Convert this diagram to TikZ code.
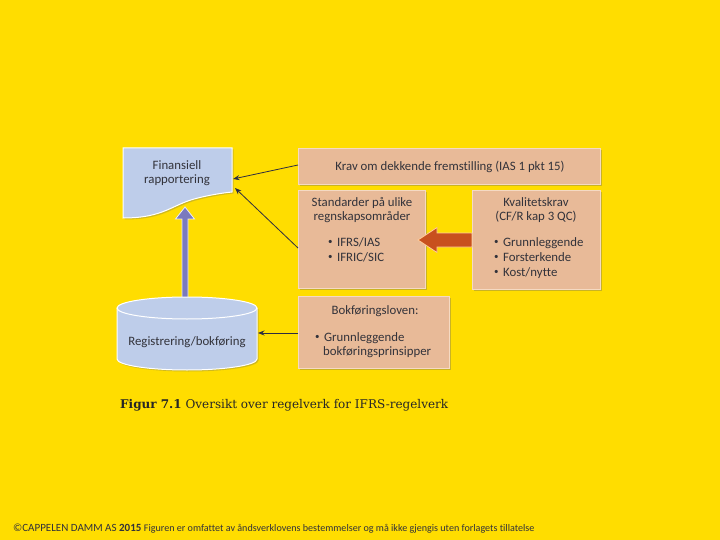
\documentclass[tikz,border=0pt]{standalone}
\usepackage{fontspec}
\setmainfont[Ligatures=NoCommon]{Carlito}
\newfontfamily\capfont{DejaVu Serif}
\usetikzlibrary{shadows,arrows.meta}
\definecolor{bg}{RGB}{255,221,0}
\definecolor{peach}{RGB}{232,186,152}
\definecolor{peachedge}{RGB}{245,218,195}
\definecolor{docblue}{RGB}{190,205,234}
\definecolor{txt}{RGB}{50,50,58}
\definecolor{purp}{RGB}{122,122,190}
\definecolor{orng}{RGB}{200,80,30}
\definecolor{lineg}{RGB}{45,45,65}
\newcommand{\bul}{\raisebox{0.2ex}{\scalebox{0.7}{•}}\hspace{0.35em}}
\begin{document}
\begin{tikzpicture}[x=1pt,y=-1pt,
  box/.style={draw=peachedge, line width=0.8pt, fill=peach, inner sep=0pt, anchor=north west,
    drop shadow={shadow xshift=1.5pt, shadow yshift=-1.5pt, opacity=0.35, fill=black!60}},
  lbl/.style={anchor=base, inner sep=0pt, text=txt, font=\fontsize{12.8}{15}\selectfont},
  lbll/.style={lbl, anchor=base west},
  conn/.style={draw=lineg, line width=0.8pt, -{Stealth[length=6.5pt,width=5pt]}},
  blueshape/.style={draw=white, line width=1pt, fill=docblue}]
\fill[bg] (0,0) rectangle (720,540);
\useasboundingbox (0,0) rectangle (720,540);

% boxes
\node[box, minimum width=302pt, minimum height=36pt] (krav) at (298,148) {};
\node[box, minimum width=127pt, minimum height=98pt] (std) at (298,190) {};
\node[box, minimum width=128pt, minimum height=99pt] (kval) at (472,190) {};
\node[box, minimum width=151pt, minimum height=72pt] (bokf) at (298,296) {};

% document shape
\path[blueshape, drop shadow={shadow xshift=1.5pt, shadow yshift=-1.5pt, opacity=0.3, fill=black!60}]
  (123,148) -- (232,148) -- (232,192)
  .. controls (222,193) and (210,195) .. (198,198)
  .. controls (172,204) and (165,218) .. (123,218) -- cycle;
\coordinate (docA) at (233,179);
\coordinate (docB) at (235,188);

% purple arrow
\path[fill=purp, draw=white!85!purp, line width=0.8pt]
  (185,207) -- (194.5,219) -- (188,219) -- (188,300) -- (182,300) -- (182,219) -- (175.5,219) -- cycle;

% cylinder
\path[blueshape, drop shadow={shadow xshift=1.5pt, shadow yshift=-1.5pt, opacity=0.3, fill=black!60}]
  (117,308) -- (117,359) arc[start angle=180, end angle=360, x radius=70pt, y radius=11pt]
  -- (257,308) arc[start angle=0, end angle=180, x radius=70pt, y radius=11pt] -- cycle;
\draw[white, line width=1pt] (117,308) arc[start angle=180, end angle=360, x radius=70pt, y radius=11pt];
\coordinate (cylR) at (258,333);

% orange arrow
\path[fill=orng, draw=orange!40!white, line width=0.8pt]
  (418,240) -- (437,227.5) -- (437,233) -- (472,233) -- (472,247) -- (437,247) -- (437,252.5) -- cycle;

% texts
\node[lbl] (fin1) at (177,170) {Finansiell};
\node[lbl] (fin2) at (177,184) {rapportering};
\node[lbl] (kravt) at (450,171) {Krav om dekkende fremstilling (IAS 1 pkt 15)};
\node[lbl] (std1) at (362,207) {Standarder på ulike};
\node[lbl] (std2) at (362,221) {regnskapsområder};
\node[lbll] (std3) at (328,246) {\bul IFRS/IAS};
\node[lbll] (std4) at (328,261) {\bul IFRIC/SIC};
\node[lbl] (kv1) at (536,207) {Kvalitetskrav};
\node[lbl] (kv2) at (536,221) {(CF/R kap 3 QC)};
\node[lbll] (kv3) at (494,246) {\bul Grunnleggende};
\node[lbll] (kv4) at (494,261) {\bul Forsterkende};
\node[lbll] (kv5) at (494,276) {\bul Kost/nytte};
\node[lbl] (bk1) at (375,314) {Bokføringsloven:};
\node[lbll] (bk2) at (315,341) {\bul Grunnleggende};
\node[lbll] (bk3) at (323,355) {bokføringsprinsipper};
\node[lbl] (reg) at (187,345) {Registrering/bokføring};

% connectors
\draw[conn] (krav.west |- 0,165) -- (docA);
\draw[conn] (std.west |- 0,248) -- (docB);
\draw[conn] (bokf.west |- cylR) -- (cylR);

% caption
\node[anchor=base west, inner sep=0pt, text=black!85] (cap) at (120,408)
  {\capfont\fontsize{12}{14}\selectfont\textbf{Figur 7.1} Oversikt over regelverk for IFRS-regelverk};

% footer
\node[anchor=base west, inner sep=0pt, text=txt] (foot) at (13,531)
  {\fontsize{11}{12}\selectfont ©CAPPELEN DAMM AS \textbf{2015} \fontsize{10.1}{11}\selectfont Figuren er omfattet av åndsverklovens bestemmelser og må ikke gjengis uten forlagets tillatelse};
\end{tikzpicture}
\end{document}
